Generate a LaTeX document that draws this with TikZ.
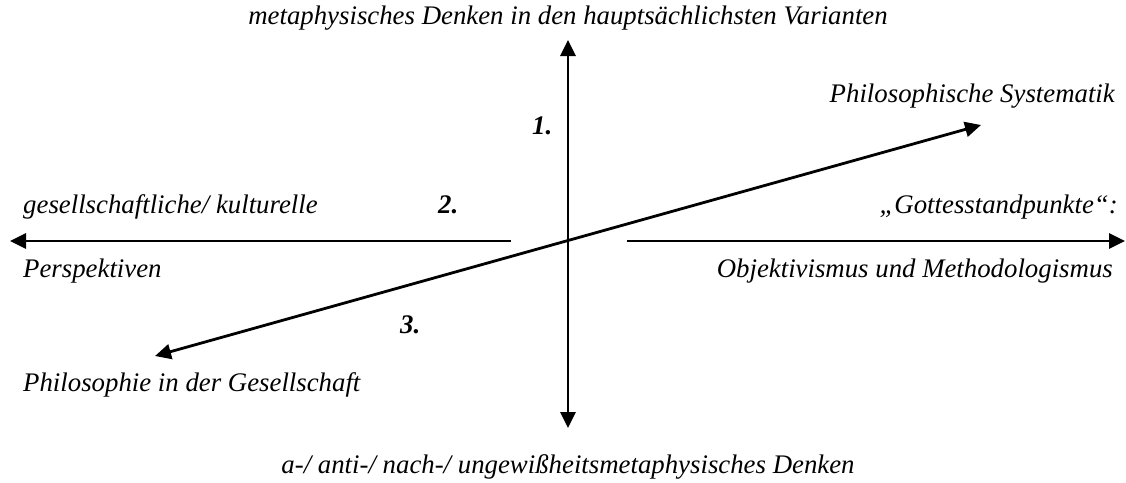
\documentclass[tikz,border=0pt]{standalone}
\usepackage{fontspec}
\setmainfont{Liberation Serif}
\usepackage{tikz}
\usetikzlibrary{arrows.meta}

\tikzset{
    axis/.style={line width=2.8pt, -{Triangle[length=16pt,width=15pt]}},
    axisboth/.style={line width=2.8pt, {Triangle[length=16pt,width=15pt]}-{Triangle[length=16pt,width=15pt]}},
    lbl/.style={inner sep=0pt, anchor=base west, font=\fontsize{26.8}{30}\selectfont\itshape},
    rlbl/.style={lbl, anchor=base east},
    clbl/.style={lbl, anchor=base},
    num/.style={lbl, font=\fontsize{26.8}{30}\selectfont\bfseries\itshape}
}

\begin{document}
\begin{tikzpicture}[x=1pt,y=-1pt]

\useasboundingbox (0,0) rectangle (1126,482);

% Ends of the axes
\coordinate (top) at (568,40);
\coordinate (bottom) at (568,428);
\coordinate (leftstart) at (511,241);
\coordinate (lefttip) at (10,241);
\coordinate (rightstart) at (627,241);
\coordinate (righttip) at (1125,241);
\coordinate (systip) at (981,125);
\coordinate (gestip) at (155,356);

% Axes
\draw[axisboth] (bottom) -- (top);
\draw[axis] (leftstart) -- (lefttip);
\draw[axis] (rightstart) -- (righttip);
\draw[axisboth] (gestip) -- (systip);

% Labels
\node[clbl] (meta) at (568,24) {metaphysisches Denken in den hauptsächlichsten Varianten};
\node[rlbl] (sys) at (1115,102) {Philosophische Systematik};
\node[num] (one) at (532,134) {1.};
\node[lbl] (gesk) at (23,213) {gesellschaftliche/ kulturelle};
\node[num] (two) at (438,213) {2.};
\node[rlbl] (gott) at (1118,213) {„Gottesstandpunkte“:};
\node[lbl] (persp) at (23,277) {Perspektiven};
\node[rlbl] (obj) at (1113,277) {Objektivismus und Methodologismus};
\node[num] (three) at (400,333) {3.};
\node[lbl] (ges) at (23,391) {Philosophie in der Gesellschaft};
\node[clbl] (anti) at (568,473) {a-/ anti-/ nach-/ ungewißheitsmetaphysisches Denken};

\end{tikzpicture}
\end{document}
